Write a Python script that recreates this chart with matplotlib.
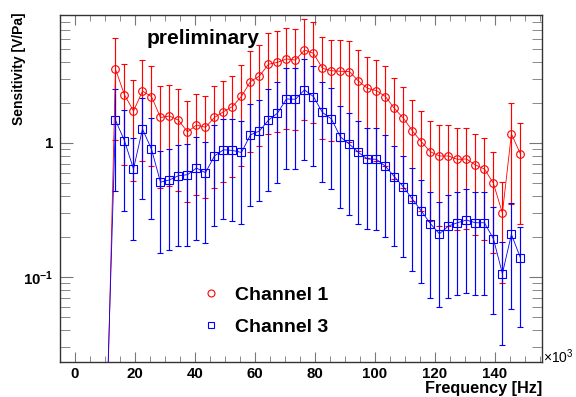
import matplotlib
matplotlib.use("Agg")
import matplotlib.pyplot as plt
from matplotlib.lines import Line2D
from matplotlib.ticker import FixedLocator, MultipleLocator, LogLocator, NullFormatter

plt.rcParams['font.family'] = ['Liberation Sans', 'DejaVu Sans']
plt.rcParams['mathtext.fontset'] = 'custom'
plt.rcParams['mathtext.rm'] = 'Liberation Sans'
plt.rcParams['mathtext.bf'] = 'Liberation Sans:bold'

# frequency in kHz (axis shows x10^3 Hz)
freq = [10.5, 13.5, 16.5, 19.5, 22.5, 25.5, 28.5, 31.5, 34.5, 37.5, 40.5, 43.5,
        46.5, 49.5, 52.5, 55.5, 58.5, 61.5, 64.5, 67.5, 70.5, 73.5, 76.5, 79.5,
        82.5, 85.5, 88.5, 91.5, 94.5, 97.5, 100.5, 103.5, 106.5, 109.5, 112.5,
        115.5, 118.5, 121.5, 124.5, 127.5, 130.5, 133.5, 136.5, 139.5, 142.5,
        145.5, 148.5]

ch1 = [0.006, 3.55, 2.29, 1.73, 2.44, 2.22, 1.55, 1.59, 1.48, 1.21, 1.36, 1.31,
       1.55, 1.71, 1.87, 2.23, 2.87, 3.16, 3.87, 4.00, 4.24, 4.16, 4.94, 4.67,
       3.61, 3.46, 3.43, 3.41, 2.90, 2.56, 2.46, 2.22, 1.81, 1.53, 1.23, 1.02,
       0.86, 0.80, 0.80, 0.755, 0.76, 0.685, 0.64, 0.50, 0.30, 1.17, 0.83]
ch1_err = [0.004, 2.49, 1.60, 1.21, 1.71, 1.55, 1.09, 1.11, 1.04, 0.85, 0.95, 0.92,
           1.09, 1.20, 1.31, 1.56, 2.01, 2.21, 2.71, 2.80, 2.97, 2.91, 3.46, 3.27,
           2.53, 2.42, 2.40, 2.39, 2.03, 1.79, 1.72, 1.55, 1.27, 1.07, 0.86, 0.71,
           0.60, 0.56, 0.56, 0.53, 0.53, 0.48, 0.45, 0.35, 0.21, 0.82, 0.58]

ch3 = [0.009, 1.48, 1.04, 0.64, 1.27, 0.90, 0.51, 0.53, 0.57, 0.58, 0.65, 0.60,
       0.80, 0.89, 0.88, 0.85, 1.15, 1.23, 1.48, 1.67, 2.13, 2.12, 2.49, 2.22,
       1.69, 1.51, 1.11, 0.98, 0.85, 0.76, 0.755, 0.67, 0.56, 0.47, 0.38, 0.31,
       0.25, 0.21, 0.24, 0.254, 0.266, 0.254, 0.254, 0.193, 0.106, 0.208, 0.139]
ch3_err = [0.006, 1.04, 0.73, 0.45, 0.89, 0.63, 0.36, 0.37, 0.40, 0.41, 0.46, 0.42,
           0.56, 0.62, 0.62, 0.60, 0.81, 0.86, 1.04, 1.17, 1.49, 1.48, 1.74, 1.55,
           1.18, 1.06, 0.78, 0.69, 0.60, 0.53, 0.53, 0.47, 0.39, 0.33, 0.27, 0.22,
           0.18, 0.15, 0.17, 0.18, 0.19, 0.18, 0.18, 0.14, 0.075, 0.15, 0.097]

labels = ['Channel 1', 'Channel 3']
xticks = [0, 20, 40, 60, 80, 100, 120, 140]

W, H = 576, 397
fig = plt.figure(figsize=(W / 100, H / 100), dpi=100)
ax = fig.add_axes([60 / W, 1 - 362 / H, 482 / W, 347 / H])

ax.errorbar(freq, ch1, yerr=ch1_err, color='red', marker='o', ms=5.5, mfc='none',
            mec='red', mew=0.8, lw=0.6, elinewidth=0.85, capsize=2, capthick=0.85)
ax.errorbar(freq, ch3, yerr=ch3_err, color='blue', marker='s', ms=5.5, mfc='none',
            mec='blue', mew=0.8, lw=0.6, elinewidth=0.85, capsize=2, capthick=0.85)

ax.set_yscale('log')
ax.set_xlim(-5, 155.7)
ax.set_ylim(0.0232, 9.02)

ax.xaxis.set_major_locator(FixedLocator(xticks))
ax.xaxis.set_minor_locator(MultipleLocator(5))
ax.set_xticklabels([str(t) for t in xticks], fontweight='bold', fontsize=10.8)
ax.set_yticks([0.1, 1])
ax.set_yticklabels([r'$\mathbf{10^{-1}}$', '1'], fontweight='bold', fontsize=10.8)
ax.yaxis.set_minor_locator(LogLocator(base=10, subs=range(2, 10)))
ax.yaxis.set_minor_formatter(NullFormatter())

ax.tick_params(which='both', direction='in', top=True, right=True, color='#777777')
ax.tick_params(axis='x', which='major', length=7.5, pad=3.5)
ax.tick_params(axis='x', which='minor', length=4.5)
ax.tick_params(axis='y', which='major', length=9.5, pad=5)
ax.tick_params(axis='y', which='minor', length=7)
for s in ax.spines.values():
    s.set_color('#333333')
    s.set_linewidth(1.0)

ax.set_xlabel('Frequency [Hz]', fontweight='bold', fontsize=11.7, loc='right')
ax.xaxis.set_label_coords(1.0, -(388 - 362) / 347)
ax.xaxis.label.set_va('center')
ax.set_ylabel('Sensitivity [V/Pa]', fontweight='bold', fontsize=10, loc='top')
ax.yaxis.set_label_coords(-(60 - 19) / 482, 1.0 + 2 / 347)
ax.yaxis.label.set_va('center')

fig.text(543 / W, 1 - 357 / H, r'$\times10^{3}$', fontsize=10, ha='left', va='center')
fig.text(147 / W, 1 - 38 / H, 'preliminary', fontweight='bold', fontsize=15,
         ha='left', va='center')

handles = [Line2D([], [], ls='none', marker='o', ms=5, mfc='none', mec='red', mew=0.8),
           Line2D([], [], ls='none', marker='s', ms=5, mfc='none', mec='blue', mew=0.8)]
ax.legend(handles, labels, loc='upper left', bbox_to_anchor=(201 / W, 1 - 286 / H),
          bbox_transform=fig.transFigure, frameon=False, borderpad=0, borderaxespad=0,
          handlelength=1.0, handletextpad=0.74, labelspacing=0.76,
          prop={'weight': 'bold', 'size': 14})

fig.savefig('out.png', dpi=100)
